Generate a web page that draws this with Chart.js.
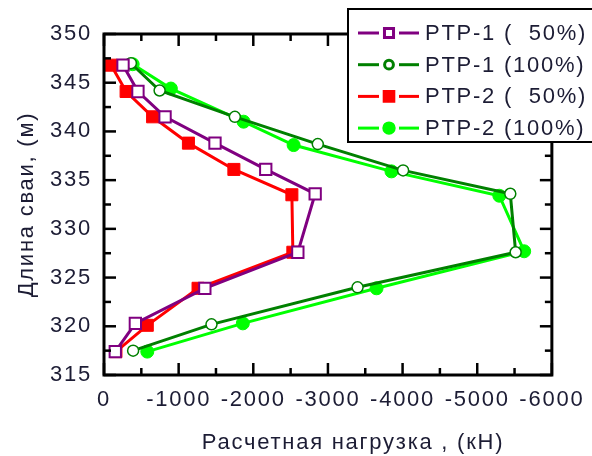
<!DOCTYPE html>
<html>
<head>
<meta charset="utf-8">
<script src="https://cdn.jsdelivr.net/npm/chart.js@4/dist/chart.umd.min.js"></script>
<style>
  html, body { margin: 0; padding: 0; background: #fff; }
  #wrap { width: 592px; height: 456px; position: relative; }
</style>
</head>
<body>
<div id="wrap"><canvas id="c"></canvas></div>
<script>
// ---- data ----
const seriesLabels = ["PTP-1 (  50%)", "PTP-1 (100%)", "PTP-2 (  50%)", "PTP-2 (100%)"];

const ptp1_50_load = [-255, -455, -818, -1487, -2167, -2829, -2597, -1351, -420, -151];
const ptp1_50_len  = [346.8, 344.1, 341.5, 338.8, 336.1, 333.6, 327.6, 323.9, 320.3, 317.4];

const ptp1_100_load = [-360, -745, -1753, -2864, -4007, -5443, -5515, -3397, -1440, -390];
const ptp1_100_len  = [347.0, 344.2, 341.5, 338.7, 336.0, 333.6, 327.6, 324.0, 320.2, 317.5];

const ptp2_50_load = [-96, -296, -651, -1131, -1740, -2517, -2530, -1260, -580, -160];
const ptp2_50_len  = [346.8, 344.1, 341.5, 338.8, 336.1, 333.5, 327.6, 323.9, 320.1, 317.4];

const ptp2_100_load = [-384, -896, -1870, -2540, -3851, -5296, -5629, -3651, -1860, -580];
const ptp2_100_len  = [346.9, 344.4, 341.0, 338.6, 335.9, 333.4, 327.7, 323.9, 320.3, 317.4];

const xTickValues = [0, -1000, -2000, -3000, -4000, -5000, -6000];
const yTickValues = [315, 320, 325, 330, 335, 340, 345, 350];

const xTitle = "Расчетная нагрузка , (кН)";
const yTitle = "Длина сваи, (м)";

// ---- helpers ----
const FONT = '"Liberation Sans", Arial, sans-serif';
const TEXT_COLOR = '#1c1c34';
const SPACING = '1.75px';

function pts(xs, ys){
  return xs.map((v, i) => ({ x: v, y: ys[i] }));
}

function line(ctx, x1, y1, x2, y2){
  ctx.beginPath();
  ctx.moveTo(x1, y1);
  ctx.lineTo(x2, y2);
  ctx.stroke();
}

// text spacing like the original (Origin-style wide glyphs)
const spacingPlugin = {
  id: 'spacing',
  beforeDraw(chart){ chart.ctx.letterSpacing = SPACING; }
};

// frame with inward ticks on all four sides
const framePlugin = {
  id: 'frame',
  afterDatasetsDraw(chart){
    const { ctx, chartArea: a, scales: { x, y } } = chart;
    ctx.save();
    ctx.strokeStyle = '#000';
    ctx.lineCap = 'butt';
    ctx.lineWidth = 2.5;

    const xMinor = [];
    for (let i = 0; i < xTickValues.length - 1; i++) xMinor.push((xTickValues[i] + xTickValues[i+1]) / 2);
    const yMinor = [];
    for (let i = 0; i < yTickValues.length - 1; i++) yMinor.push((yTickValues[i] + yTickValues[i+1]) / 2);

    xTickValues.forEach(v => {
      const px = x.getPixelForValue(v);
      line(ctx, px, a.bottom, px, a.bottom - 12);
      line(ctx, px, a.top, px, a.top + 12);
    });
    xMinor.forEach(v => {
      const px = x.getPixelForValue(v);
      line(ctx, px, a.bottom, px, a.bottom - 7);
      line(ctx, px, a.top, px, a.top + 7);
    });
    yTickValues.forEach(v => {
      const py = y.getPixelForValue(v);
      line(ctx, a.left, py, a.left + 12, py);
      line(ctx, a.right, py, a.right - 12, py);
    });
    yMinor.forEach(v => {
      const py = y.getPixelForValue(v);
      line(ctx, a.left, py, a.left + 7, py);
      line(ctx, a.right, py, a.right - 7, py);
    });

    ctx.lineWidth = 3;
    ctx.strokeRect(a.left, a.top, a.right - a.left, a.bottom - a.top);
    ctx.restore();
  }
};

// axis titles and the boxed legend
const annotPlugin = {
  id: 'annot',
  afterDraw(chart){
    const { ctx, chartArea: a } = chart;
    ctx.save();
    ctx.letterSpacing = SPACING;
    ctx.fillStyle = TEXT_COLOR;
    ctx.font = '22px ' + FONT;

    // x title
    ctx.textAlign = 'center';
    ctx.textBaseline = 'alphabetic';
    ctx.fillText(xTitle, 353, 449);

    // y title
    ctx.save();
    ctx.translate(33, (a.top + a.bottom) / 2);
    ctx.rotate(-Math.PI / 2);
    ctx.fillText(yTitle, 0, 0);
    ctx.restore();

    // legend
    const bx = 348, by = 9, bw = 260, bh = 133;
    ctx.fillStyle = '#fff';
    ctx.fillRect(bx, by, bw, bh);
    ctx.strokeStyle = '#000';
    ctx.lineWidth = 2;
    ctx.strokeRect(bx, by, bw, bh);

    chart.data.datasets.forEach((ds, i) => {
      const cy = 33 + i * 31.7;
      const mx = 389;
      ctx.strokeStyle = ds.borderColor;
      ctx.lineWidth = ds.borderWidth;
      line(ctx, 358, cy, mx - 10, cy);
      line(ctx, mx + 10, cy, 419, cy);
      ctx.fillStyle = ds.pointBackgroundColor;
      ctx.strokeStyle = ds.pointBorderColor;
      Chart.helpers.drawPoint(ctx, {
        pointStyle: ds.pointStyle,
        rotation: 0,
        radius: ds.pointRadius * 0.8,
        borderWidth: ds.pointBorderWidth
      }, mx, cy);

      ctx.fillStyle = TEXT_COLOR;
      ctx.textAlign = 'left';
      ctx.textBaseline = 'middle';
      ctx.fillText(ds.label, 425, cy + 1);
    });
    ctx.restore();
  }
};

function makeSet(label, data, color, style, radius, fill, borderW){
  return {
    label,
    data,
    showLine: true,
    borderColor: color,
    backgroundColor: color,
    borderWidth: 3,
    pointStyle: style,
    pointRadius: radius,
    pointHoverRadius: radius,
    pointBackgroundColor: fill,
    pointBorderColor: color,
    pointBorderWidth: borderW,
    tension: 0
  };
}

new Chart(document.getElementById('c'), {
  type: 'scatter',
  data: {
    datasets: [
      makeSet(seriesLabels[0], pts(ptp1_50_load, ptp1_50_len), '#800080', 'rect', 8, '#fff', 2),
      makeSet(seriesLabels[1], pts(ptp1_100_load, ptp1_100_len), '#008000', 'circle', 5.5, '#fff', 1.5),
      makeSet(seriesLabels[2], pts(ptp2_50_load, ptp2_50_len), '#ff0000', 'rect', 8.5, '#ff0000', 1),
      makeSet(seriesLabels[3], pts(ptp2_100_load, ptp2_100_len), '#00ff00', 'circle', 6.5, '#00ff00', 1)
    ]
  },
  options: {
    responsive: true,
    maintainAspectRatio: false,
    animation: false,
    layout: { padding: { top: 34, right: 35, left: 0, bottom: 0 } },
    plugins: {
      legend: { display: false },
      tooltip: { enabled: false }
    },
    scales: {
      x: {
        type: 'linear',
        reverse: true,
        min: -6000,
        max: 0,
        grid: { display: false, drawTicks: false },
        border: { display: false },
        afterBuildTicks: s => { s.ticks = xTickValues.map(v => ({ value: v })); },
        afterFit: s => { s.height = 81; },
        ticks: {
          padding: 12,
          color: TEXT_COLOR,
          font: { family: FONT, size: 22 },
          maxRotation: 0,
          autoSkip: false,
          callback: v => String(v)
        }
      },
      y: {
        type: 'linear',
        min: 315,
        max: 350,
        grid: { display: false, drawTicks: false },
        border: { display: false },
        afterBuildTicks: s => { s.ticks = yTickValues.map(v => ({ value: v })); },
        afterFit: s => { s.width = 104; },
        ticks: {
          padding: 12,
          color: TEXT_COLOR,
          font: { family: FONT, size: 22 },
          callback: v => String(v)
        }
      }
    }
  },
  plugins: [spacingPlugin, framePlugin, annotPlugin]
});
</script>
</body>
</html>
